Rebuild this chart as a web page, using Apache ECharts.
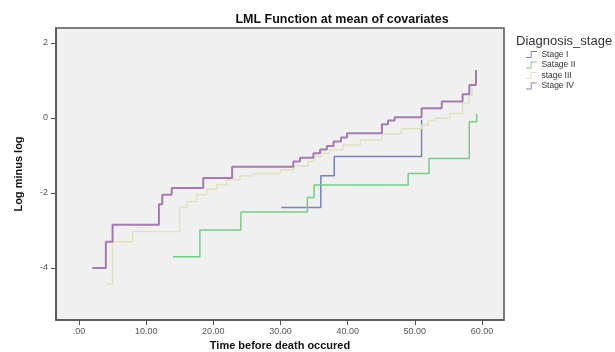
<!DOCTYPE html>
<html><head><meta charset="utf-8">
<script src="https://cdn.jsdelivr.net/npm/echarts@6/dist/echarts.min.js"></script>
<style>html,body{margin:0;padding:0;background:#fff}#c{width:615px;height:352px}</style>
</head><body><div id="c"></div>
<script>
const seriesNames = ['Stage I', 'Satage II', 'stage III', 'Stage IV'];
const xTicks = [0, 10, 20, 30, 40, 50, 60];
const yTicks = [-4, -2, 0, 2];
// step points: [time at which step occurs, new log-minus-log value]
const stageI = [[30.1,-2.39],[36.0,-1.54],[38.0,-1.03],[51.0,-0.05]];
const stageII = [[14.0,-3.70],[18.0,-2.99],[24.1,-2.51],[34.0,-2.12],[35.0,-1.79],[49.0,-1.48],[52.1,-1.08],[58.1,-0.10],[59.2,0.11]];
const stageIII = [[4.1,-4.43],[5.0,-3.3],[8.0,-3.03],[15.0,-2.38],[16.1,-2.23],[17.5,-2.05],[19.0,-1.9],[20.5,-1.78],[22.0,-1.65],[24.0,-1.55],[26.0,-1.48],[30.0,-1.39],[32.0,-1.28],[34.1,-1.16],[35.0,-1.03],[36.1,-0.94],[37.3,-0.85],[39.3,-0.72],[41.9,-0.59],[45.1,-0.43],[48.0,-0.29],[51.0,-0.19],[52.0,-0.07],[53.0,-0.01],[55.2,0.12],[57.1,0.39],[58.1,0.61],[58.5,1.01]];
const stageIV = [[2.0,-4.0],[4.0,-3.3],[5.0,-2.85],[11.9,-2.3],[12.4,-2.05],[13.8,-1.87],[18.5,-1.6],[22.8,-1.3],[31.9,-1.16],[32.9,-1.06],[34.9,-0.94],[35.9,-0.84],[36.9,-0.75],[37.9,-0.63],[39.0,-0.52],[39.9,-0.41],[45.1,-0.17],[46.0,-0.07],[47.0,0.02],[51.0,0.26],[54.0,0.44],[57.1,0.63],[58.1,0.88],[59.1,1.28]];
const allData = [stageI, stageII, stageIII, stageIV];
const colors = ['#7482c0', '#74cf84', '#e4e0c2', '#a679b2'];
const widths = [1.5, 1.5, 1.5, 2];

const stepIcon = 'path://M0,9 L7,9 L7,0 L16,0 L16,1.4 L8.4,1.4 L8.4,10.4 L0,10.4 Z';
const chart = echarts.init(document.getElementById('c'), null, {renderer: 'canvas'});
chart.setOption({
  animation: false,
  backgroundColor: '#fff',
  title: [{
    text: 'LML Function at mean of covariates',
    left: 337, top: 8, textAlign: 'center',
    textStyle: {fontFamily: 'Liberation Sans, Arial', fontWeight: 'bold', fontSize: 12.5, color: '#111'}
  }, {
    text: 'Diagnosis_stage', left: 511, top: 30,
    textStyle: {fontFamily: 'Liberation Sans, Arial', fontWeight: 'normal', fontSize: 13, color: '#333'}
  }],
  legend: {
    orient: 'vertical', left: 521, top: 45, itemGap: 1.5,
    itemWidth: 16, itemHeight: 7,
    textStyle: {fontFamily: 'Liberation Sans, Arial', fontSize: 8.5, color: '#333', padding: [0,0,0,-3]},
    data: seriesNames.map((n, i) => ({name: n, icon: stepIcon, itemStyle: {color: colors[i]}}))
  },
  grid: {left: 56, right: 111, top: 28, bottom: 32, outerBoundsMode: 'none', containLabel: false,
    show: true, backgroundColor: '#f0f0f0', borderColor: '#555', borderWidth: 1.5},
  xAxis: {
    type: 'value', min: -3.42, max: 63.27,
    name: 'Time before death occured', nameLocation: 'middle', nameGap: 20,
    nameTextStyle: {fontFamily: 'Liberation Sans, Arial', fontWeight: 'bold', fontSize: 11, color: '#111'},
    axisLine: {show: true, onZero: false, lineStyle: {color: '#555', width: 1.5}},
    axisTick: {show: true, customValues: xTicks, length: 5, lineStyle: {color: '#555'}},
    axisLabel: {customValues: xTicks, fontFamily: 'Liberation Sans, Arial', fontSize: 9, color: '#555', margin: 7,
      formatter: v => (v === 0 ? '.00' : v.toFixed(2))},
    splitLine: {show: false}
  },
  yAxis: {
    type: 'value', min: -5.39, max: 2.4,
    name: 'Log minus log', nameLocation: 'middle', nameGap: 32, nameRotate: 90,
    nameTextStyle: {fontFamily: 'Liberation Sans Narrow, Liberation Sans, Arial', fontWeight: 'bold', fontSize: 11, color: '#111'},
    axisLine: {show: true, onZero: false, lineStyle: {color: '#555', width: 1.5}},
    axisTick: {show: true, customValues: yTicks, length: 5, lineStyle: {color: '#555'}},
    axisLabel: {customValues: yTicks, fontFamily: 'Liberation Sans, Arial', fontSize: 9, color: '#555', margin: 8},
    splitLine: {show: false}
  },
  series: seriesNames.map((n, i) => ({
    name: n, type: 'line', step: 'end', data: allData[i], showSymbol: false, symbol: 'none',
    lineStyle: {color: colors[i], width: widths[i]}, itemStyle: {color: colors[i]}, z: 2 + i
  }))
});
</script></body></html>
